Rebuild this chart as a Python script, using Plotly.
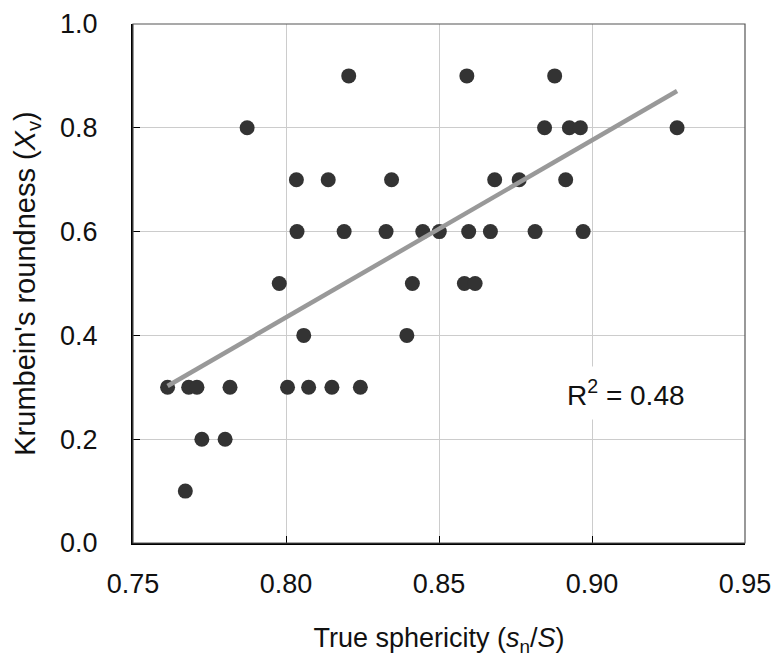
import numpy as np
import plotly.graph_objects as go

# True sphericity (x) and Krumbein's roundness (y)
sphericity = [
    0.7873,
    0.8205, 0.8591, 0.8878,
    0.8845, 0.8926, 0.8962, 0.9278,
    0.8034, 0.8138, 0.8345, 0.8682, 0.8762, 0.8914,
    0.8036, 0.8190, 0.8327, 0.8447, 0.8501, 0.8597, 0.8668, 0.8814, 0.8971,
    0.7978, 0.8413, 0.8583, 0.8618,
    0.8058, 0.8395,
    0.7613, 0.7682, 0.7709, 0.7817, 0.8005, 0.8074, 0.8150, 0.8243,
    0.7725, 0.7801,
    0.7671,
]
roundness = [
    0.8,
    0.9, 0.9, 0.9,
    0.8, 0.8, 0.8, 0.8,
    0.7, 0.7, 0.7, 0.7, 0.7, 0.7,
    0.6, 0.6, 0.6, 0.6, 0.6, 0.6, 0.6, 0.6, 0.6,
    0.5, 0.5, 0.5, 0.5,
    0.4, 0.4,
    0.3, 0.3, 0.3, 0.3, 0.3, 0.3, 0.3, 0.3,
    0.2, 0.2,
    0.1,
]
r_squared_label = "R<sup>2</sup> = 0.48"
x_ticks = [0.75, 0.80, 0.85, 0.90, 0.95]
y_ticks = [0.0, 0.2, 0.4, 0.6, 0.8, 1.0]

xs = np.array(sphericity)
ys = np.array(roundness)
slope, intercept = np.polyfit(xs, ys, 1)
fit_x = np.array([xs.min(), xs.max()])
fit_y = slope * fit_x + intercept

FONT = "Liberation Sans, Arial, sans-serif"

fig = go.Figure()
fig.add_trace(go.Scatter(
    x=xs, y=ys, mode="markers",
    marker=dict(size=15, color="#333333", line=dict(width=0)),
    showlegend=False, hoverinfo="skip",
))
fig.add_trace(go.Scatter(
    x=fit_x, y=fit_y, mode="lines",
    line=dict(color="#999999", width=4.5),
    showlegend=False, hoverinfo="skip",
))

fig.add_annotation(
    x=0.911, y=0.289, xref="x", yref="y",
    text=r_squared_label, showarrow=False,
    font=dict(family=FONT, size=28, color="#111111"),
    bgcolor="white", borderpad=8,
)

fig.add_shape(
    type="rect", xref="x domain", yref="y domain",
    x0=0, x1=1, y0=0, y1=1,
    line=dict(color="#555555", width=1.2), layer="above",
)

fig.update_xaxes(
    range=[0.75, 0.95], tickvals=x_ticks, tickformat=".2f",
    showgrid=True, gridcolor="#cccccc", gridwidth=1,
    showline=True, linecolor="black", linewidth=2,
    ticks="inside", ticklen=7, tickcolor="black", tickwidth=1,
    ticklabelstandoff=16,
    zeroline=False, automargin=False,
    tickfont=dict(family=FONT, size=27, color="#111111"),
    title=dict(text="True sphericity (<i>s</i><sub>n</sub>/<i>S</i>)",
               font=dict(family=FONT, size=27, color="#111111"), standoff=30),
)
fig.update_yaxes(
    range=[0, 1.0], tickvals=y_ticks, tickformat=".1f",
    showgrid=True, gridcolor="#cccccc", gridwidth=1,
    showline=True, linecolor="black", linewidth=2,
    ticks="inside", ticklen=7, tickcolor="black", tickwidth=1,
    ticklabelstandoff=28,
    zeroline=False, automargin=False,
    tickfont=dict(family=FONT, size=27, color="#111111"),
    title=dict(text="Krumbein's roundness (<i>X</i><sub>v</sub>)",
               font=dict(family=FONT, size=29, color="#111111"), standoff=16),
)

fig.update_layout(
    width=774, height=663,
    margin=dict(l=133, r=29, t=24, b=120),
    paper_bgcolor="white", plot_bgcolor="white",
    font=dict(family=FONT),
)

fig.write_html("out.html",
               config={"displayModeBar": False, "staticPlot": True},
               post_script="document.body.style.margin='0';document.body.style.overflow='hidden';")
